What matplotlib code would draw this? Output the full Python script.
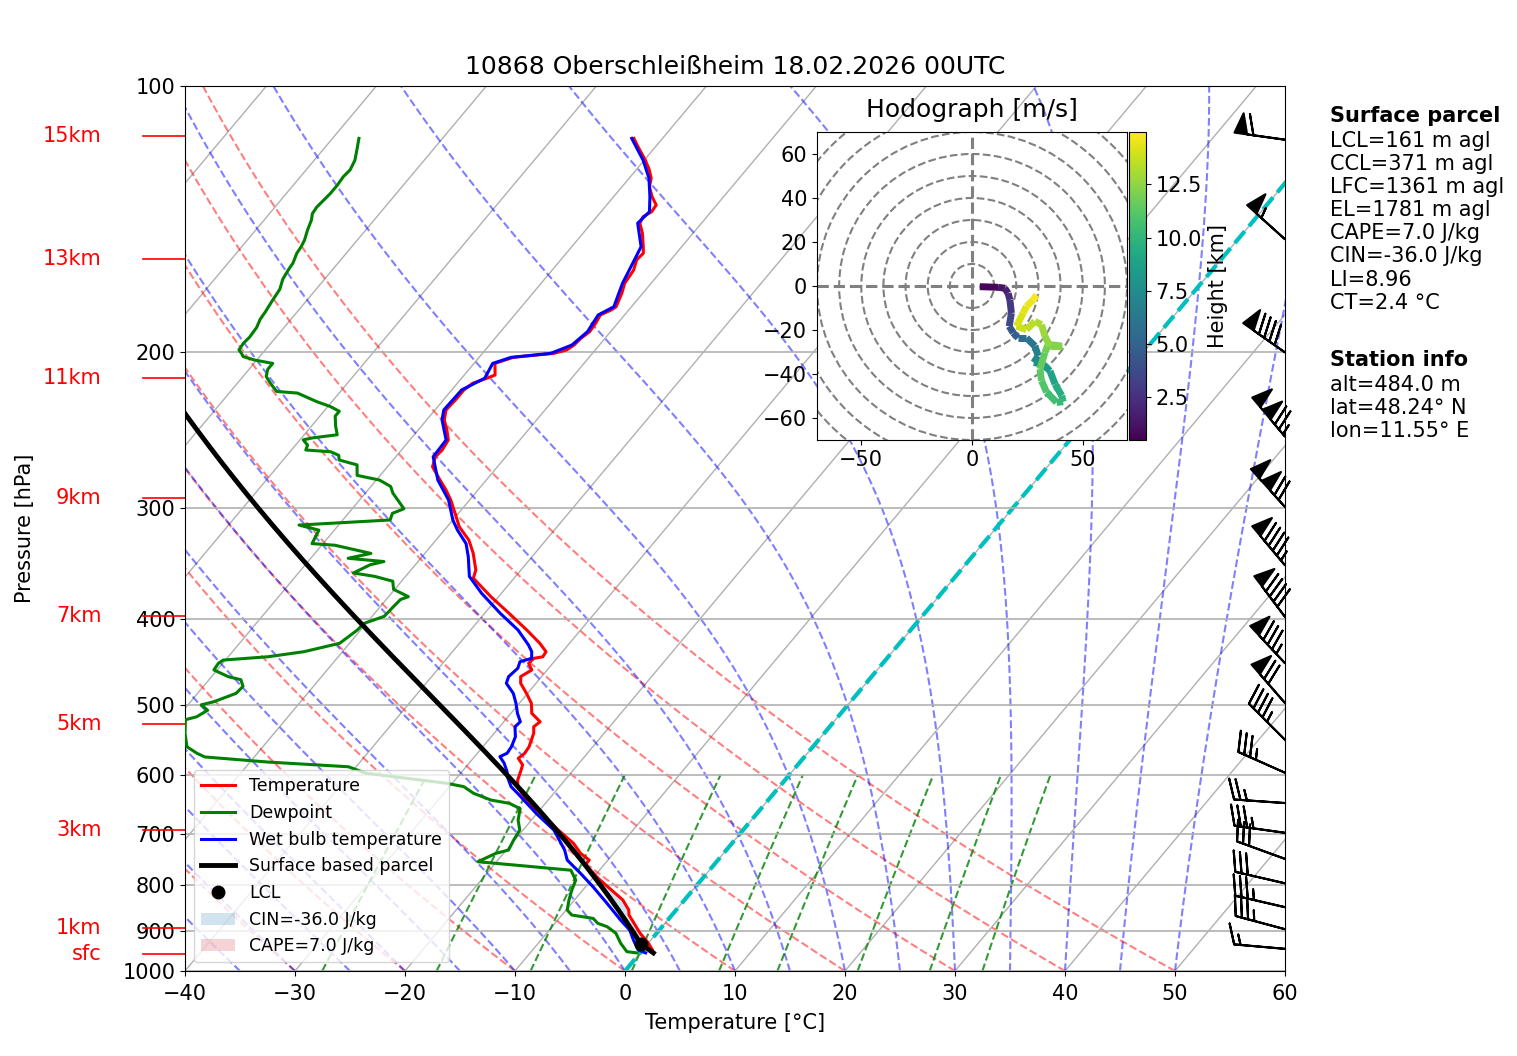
import numpy as np
import matplotlib
matplotlib.use("Agg")
import matplotlib.pyplot as plt
import matplotlib.transforms as mtransforms
from matplotlib.collections import LineCollection
from matplotlib.colors import Normalize
from matplotlib.lines import Line2D
from matplotlib.patches import Circle, Patch
from matplotlib.ticker import NullLocator

title = "10868 Oberschleißheim 18.02.2026 00UTC"

# sounding (hPa, degC)
p_temp = [954, 946.8, 926.6, 906.5, 883.4, 864.5, 853.3, 831.4, 810, 785.7, 765.5, 759, 749.3,
          736.3, 717.4, 693, 663.4, 646.4, 629.8, 619, 608.4, 597.8, 585, 575, 567.5, 558, 548.3,
          538.8, 529.7, 522.8, 511.5, 498.3, 485.6, 473, 464.9, 456.9, 449, 443.3, 441.5, 435.7,
          426.3, 411.8, 394.2, 377.6, 359.9, 352.3, 337.4, 326, 314.8, 304, 293.7, 286.1, 278.8,
          269.3, 262.4, 257.8, 251.2, 244.7, 238.4, 232.3, 226.3, 220.5, 216.7, 213.9, 212.1,
          205.8, 202.6, 201.4, 200.5, 198.7, 196.2, 192.8, 189.5, 185.4, 181.4, 179.1, 177.6,
          171.5, 167.1, 164.2, 161.4, 157.2, 154.5, 151.9, 146.7, 142.9, 140.5, 138.7, 136.3,
          133.4, 130, 127.1, 124.4, 121.3, 117.1, 114.6]
t_temp = [1.2, 0.9, -0.2, -1.5, -2.8, -3.9, -4.3, -5.6, -7.4, -9.5, -11.1, -11.7, -11.7,
          -13.0, -14.4, -16.8, -19.7, -21.5, -22.9, -23.8, -24.3, -24.6, -25.0, -25.9, -25.7, -25.8, -26.1,
          -26.4, -26.9, -26.7, -28.1, -28.9, -30.1, -31.4, -31.9, -31.4, -32.2, -32.1, -31.4, -31.5,
          -32.7, -34.9, -37.8, -40.7, -43.7, -44.1, -45.6, -47.0, -48.9, -50.3, -51.7, -52.9, -54.2,
          -55.9, -56.4, -56.3, -56.5, -57.4, -58.4, -59.0, -58.9, -58.9, -58.6, -57.7, -57.2,
          -58.1, -56.9, -55.0, -53.5, -52.6, -52.3, -52.2, -51.9, -52.0, -52.2, -51.6, -51.4,
          -51.9, -52.4, -52.5, -52.6, -53.1, -53.0, -53.5, -54.6, -55.6, -55.8, -55.4, -55.5,
          -56.5, -57.5, -58.0, -58.8, -59.9, -61.6, -62.6]

p_dew = [954, 951, 930.5, 906.5, 891.1, 883.4, 872.1, 864.5, 853.3, 831.4, 810, 789.4, 769.3,
         752.5, 736.3, 730, 711, 693, 675.5, 655.4, 646.4, 641, 629.8, 619, 613.6, 597.8, 587.8,
         580.6, 573, 567.5, 558, 538.8, 520.1, 516.1, 507.4, 500.3, 496.4, 485.6, 476.9, 468.7,
         464.9, 456.9, 449, 445.3, 441.5, 435.7, 426.3, 411.8, 404.8, 397.4, 387.5, 380.4, 377.6,
         370.5, 362.7, 358.2, 355, 347.5, 344.6, 341.7, 337.4, 330.3, 328.9, 317.6, 313.4, 309.3,
         304, 300.4, 288.4, 283.5, 278.8, 275.4, 268, 264.6, 261.4, 259, 257.8, 254.6, 251.1,
         249.8, 247.8, 242.3, 236.1, 233.1, 230.2, 227.3, 222.3, 221.4, 216.7, 212.9, 209, 205.8,
         204, 202.2, 200.5, 198.7, 195.2, 192.3, 187.4, 183.5, 179.8, 175.2, 172.4, 169.7, 165.3,
         161.4, 158.5, 154.5, 151.9, 149.3, 145.4, 141.7, 139.4, 137, 134.6, 132.3, 129.4, 126.6,
         124.4, 121.3, 117.1, 114.6]
t_dew = [-0.3, -1.3, -2.5, -3.7, -5.0, -6.1, -6.9, -9.1, -9.9, -10.5, -11.0, -11.4, -12.6,
         -21.7, -20.7, -19.8, -20.1, -20.3, -21.2, -21.9, -23.3, -25.2, -27.3, -28.7, -30.5, -38.6, -40.7,
         -48.4, -54.5, -55.5, -56.9, -58.1, -59.1, -58.3, -57.8, -58.8, -57.9, -56.5, -56.4, -57.1,
         -58.5, -60.3, -60.4, -60.2, -56.4, -53.5, -50.9, -50.3, -50.2, -48.9, -48.8, -48.7, -48.2,
         -50.1, -50.8, -52.8, -55.0, -54.1, -53.1, -56.6, -54.9, -58.8, -61.0, -61.4, -63.6, -55.7,
         -56.0, -55.3, -57.5, -58.2, -59.7, -62.1, -62.9, -64.9, -65.3, -66.3, -68.7, -68.9, -69.7,
         -69.0, -67.0, -67.8, -68.6, -68.6, -69.8, -71.4, -73.8, -75.8, -77.0, -77.9, -78.3, -78.3,
         -80.2, -81.5, -81.9, -82.4, -82.5, -82.4, -82.5, -82.8, -82.9, -83.1, -83.2, -83.3, -83.8,
         -84.0, -84.1, -84.5, -84.6, -84.8, -85.3, -85.7, -86.1, -86.2, -86.1, -86.0, -86.0, -86.1,
         -86.0, -86.3, -87.1, -87.6]

p_wb = [954, 946.8, 922.4, 898.8, 875.6, 838.4, 803.5, 775.4, 749.3, 730, 693, 663.4, 629.8,
        619, 603.1, 595.4, 582.5, 572.5, 567.5, 558, 543.7, 529.7, 522.8, 511.5, 498.3, 485.6,
        473, 464.9, 454.9, 447.2, 443.3, 435.7, 428.2, 411.8, 394.2, 374.3, 358.2, 340.3, 328.9,
        317.6, 309.3, 293.7, 278.8, 262.4, 251.2, 238.4, 232.3, 220.5, 213.9, 205.8, 202.6,
        200.5, 196.2, 189.5, 181.4, 177.6, 167.1, 157.2, 151.9, 142.9, 138.7, 133.4, 127.1,
        121.3, 114.6]
t_wb = [0.5, -0.4, -1.6, -2.7, -4.3, -6.8, -9.3, -11.5, -13.7, -14.7, -17.2, -20.1, -23.3,
        -24.4, -25.5, -25.9, -26.8, -27.7, -27.3, -27.4, -27.8, -28.6, -28.5, -29.4, -30.3, -31.3,
        -32.7, -33.0, -32.8, -33.1, -32.3, -32.8, -33.6, -35.7, -38.6, -41.8, -44.2, -45.8, -47.0,
        -48.8, -50.0, -51.9, -54.4, -56.6, -56.7, -58.6, -59.2, -59.1, -57.9, -58.3, -57.1,
        -53.8, -52.5, -52.1, -52.4, -51.6, -52.6, -53.3, -53.7, -55.8, -55.6, -56.7, -58.2,
        -60.1, -62.8]

# surface parcel start
p_sfc = 954.0
t_sfc = 1.2
td_sfc = -0.3

# wind barbs (hPa, direction deg, speed kt)
barb_p = [944, 897, 847, 796, 747, 698, 646, 597, 548, 498, 449, 398, 348, 299, 249, 200, 149, 115]
barb_dir = [275, 285, 283, 283, 290, 278, 274, 294, 315, 319, 317, 323, 320, 318, 320, 305, 312, 278]
barb_kt = [15, 35, 35, 30, 30, 35, 25, 35, 45, 70, 85, 90, 95, 120, 125, 90, 55, 60]

# hodograph (km, m/s)
hodo_h = [0.5, 1.0, 1.5, 2.0, 2.6, 3.3, 4.0, 4.6, 5.2, 5.8, 6.4, 7.0, 7.5, 8.0, 8.6, 9.2, 9.7,
          10.1, 10.4, 10.8, 11.1, 11.4, 11.7, 11.9, 12.1, 12.4, 12.7, 13.0, 13.3, 13.6, 13.9,
          14.2, 14.4, 14.7, 14.95]
hodo_u = [3.5, 11.8, 14.8, 16.3, 17.1, 17.8, 16.8, 18.6, 20.8, 24.6, 28.4, 29.9, 27.9, 32.2,
          35.2, 37.5, 40.5, 41.2, 38.2, 33.7, 31.4, 30.7, 32.9, 34.4, 40.5, 35.2, 32.9, 31.4,
          28.4, 24.6, 20.1, 23.1, 24.6, 27.6, 29.2]
hodo_v = [-0.3, -0.6, -1.0, -3.3, -6.3, -12.3, -18.3, -21.3, -23.6, -23.6, -27.3, -31.8, -34.8,
          -35.6, -38.6, -44.6, -49.8, -52.6, -52.9, -48.3, -43.1, -37.8, -30.3, -26.6, -27.3,
          -27.3, -22.8, -17.6, -16.1, -19.8, -18.3, -12.3, -9.3, -6.3, -4.1]

# height marks on the pressure axis
height_labels = ["sfc", "1km", "3km", "5km", "7km", "9km", "11km", "13km", "15km"]
height_p = [956, 895, 693, 526, 397, 292, 214, 157, 114]

parcel_lines = ["LCL=161 m agl", "CCL=371 m agl", "LFC=1361 m agl", "EL=1781 m agl",
                "CAPE=7.0 J/kg", "CIN=-36.0 J/kg", "LI=8.96", "CT=2.4 °C"]
station_lines = ["alt=484.0 m", "lat=48.24° N", "lon=11.55° E"]

# background line sets
dry_t0 = np.arange(-40, 51, 10)
moist_t0 = np.arange(-40, 51, 5)
mixing_ratios = [0.0004, 0.001, 0.002, 0.004, 0.007, 0.01, 0.016, 0.024, 0.032]

RD = 287.04749
CP = 1004.666
LV = 2.50084e6
EPS = 0.622
SKEW = 67.4  # degC shift per decade of pressure


def skew_x(t, p):
    return np.asarray(t, float) + SKEW * np.log10(1000.0 / np.asarray(p, float))


def sat_mixing(p, tk):
    es = 6.112 * np.exp(17.67 * (tk - 273.15) / (tk - 29.65))
    return EPS * es / (p - es)


def moist_dtdp(p, tk):
    rs = sat_mixing(p, tk)
    return (RD * tk + LV * rs) / (CP + LV * LV * rs * EPS / (RD * tk * tk)) / p


def moist_adiabat(t_start, plev):
    tk = np.atleast_1d(np.asarray(t_start, float)) + 273.15
    out = [tk.copy()]
    for p0, p1 in zip(plev[:-1], plev[1:]):
        h = p1 - p0
        k1 = moist_dtdp(p0, tk)
        k2 = moist_dtdp(p0 + h / 2, tk + h / 2 * k1)
        k3 = moist_dtdp(p0 + h / 2, tk + h / 2 * k2)
        k4 = moist_dtdp(p1, tk + h * k3)
        tk = tk + h / 6 * (k1 + 2 * k2 + 2 * k3 + k4)
        out.append(tk.copy())
    return np.array(out) - 273.15


fig = plt.figure(figsize=(15.17, 10.56), dpi=100)
ax = fig.add_axes([185 / 1517, 85 / 1056, 1100 / 1517, 885 / 1056])
ax.set_yscale("log")
ax.set_ylim(1000, 100)
ax.set_xlim(-40, 60)
ax.set_yticks(np.arange(100, 1001, 100))
ax.set_yticklabels([str(v) for v in range(100, 1001, 100)])
ax.yaxis.set_minor_locator(NullLocator())
ax.set_xticks(np.arange(-40, 61, 10))
ax.yaxis.grid(True, color="#b0b0b0", lw=1.2)
ax.tick_params(labelsize=15)
ax.tick_params(axis="x", pad=6)

pg = np.linspace(1000, 100, 200)
for t in range(-120, 61, 10):
    ax.plot(skew_x(t, pg), pg, color="#b0b0b0", lw=1.0, zorder=0.8)

for t0 in dry_t0:
    td = (t0 + 273.15) * (pg / 1000.0) ** (RD / CP) - 273.15
    ax.plot(skew_x(td, pg), pg, color="r", ls="--", alpha=0.5, lw=1.5, zorder=1)

moist = moist_adiabat(moist_t0, pg)
for i in range(len(moist_t0)):
    ax.plot(skew_x(moist[:, i], pg), pg, color="b", ls="--", alpha=0.5, lw=1.5, zorder=1)

pm = np.linspace(1000, 600, 50)
for w in mixing_ratios:
    e = w * pm / (EPS + w)
    lg = np.log(e / 6.112)
    tdw = 243.5 * lg / (17.67 - lg)
    ax.plot(skew_x(tdw, pm), pm, color="g", ls="--", alpha=0.8, lw=1.5, zorder=1)

ax.plot(skew_x(0, pg), pg, color="c", ls="--", lw=3, zorder=1.5)

# surface based parcel
tk_s = t_sfc + 273.15
tdk_s = td_sfc + 273.15
t_lcl = 1.0 / (1.0 / (tdk_s - 56.0) + np.log(tk_s / tdk_s) / 800.0) + 56.0
p_lcl = p_sfc * (t_lcl / tk_s) ** (CP / RD)
p_dry = np.linspace(p_sfc, p_lcl, 10)
t_dry = tk_s * (p_dry / p_sfc) ** (RD / CP) - 273.15
p_wet = np.linspace(p_lcl, 100, 300)
t_wet = moist_adiabat(t_lcl - 273.15, p_wet)[:, 0]
par_p = np.concatenate([p_dry, p_wet[1:]])
par_t = np.concatenate([t_dry, t_wet[1:]])

env_t = np.interp(par_p[::-1], p_temp[::-1], t_temp[::-1])[::-1]
warmer = par_t > env_t
above = par_p < p_lcl
idx_lfc = np.where(warmer & above)[0]
if len(idx_lfc):
    p_lfc = par_p[idx_lfc[0]]
    after = np.where((~warmer) & (par_p < p_lfc))[0]
    p_el = par_p[after[0]] if len(after) else 100
else:
    p_lfc, p_el = 100, 100
x_par = skew_x(par_t, par_p)
x_env = skew_x(env_t, par_p)
ax.fill_betweenx(par_p, x_par, x_env, where=(~warmer) & (par_p >= p_lfc),
                 color="tab:blue", alpha=0.2, lw=0, interpolate=True)
ax.fill_betweenx(par_p, x_par, x_env, where=warmer & (par_p <= p_lfc) & (par_p >= p_el),
                 color="tab:red", alpha=0.2, lw=0, interpolate=True)

ax.plot(skew_x(t_temp, p_temp), p_temp, color="r", lw=2.2, zorder=3)
ax.plot(skew_x(t_dew, p_dew), p_dew, color="g", lw=2.2, zorder=3)
ax.plot(skew_x(t_wb, p_wb), p_wb, color="b", lw=2.2, zorder=3)
ax.plot(x_par, par_p, color="k", lw=3.5, zorder=3)
ax.plot(skew_x(t_lcl - 273.15, p_lcl), p_lcl, "ko", ms=9, zorder=4)

# wind barbs on the right edge
trans = mtransforms.blended_transform_factory(ax.transAxes, ax.transData)
wd = np.deg2rad(barb_dir)
bu = -np.array(barb_kt) * np.sin(wd)
bv = -np.array(barb_kt) * np.cos(wd)
ax.barbs(np.ones(len(barb_p)), barb_p, bu, bv, transform=trans, clip_on=False,
         length=8.57, lw=1.5, zorder=5)

# height marks
for lab, hp in zip(height_labels, height_p):
    ax.plot([-0.038, 0.0], [hp, hp], color="r", lw=1.2, transform=trans, clip_on=False)
    ax.text(-0.076, hp, lab, color="r", ha="right", va="center", fontsize=15,
            transform=trans)

ax.set_title(title, fontsize=18, pad=9)
ax.set_xlabel("Temperature [°C]", fontsize=15, labelpad=6)
ax.set_ylabel("Pressure [hPa]", fontsize=15)
ax.yaxis.set_label_coords(-0.136, 0.5)

handles = [Line2D([], [], color="r", lw=2.2), Line2D([], [], color="g", lw=2.2),
           Line2D([], [], color="b", lw=2.2), Line2D([], [], color="k", lw=3.5),
           Line2D([], [], color="k", marker="o", ls="none", ms=9),
           Patch(facecolor="tab:blue", alpha=0.2), Patch(facecolor="tab:red", alpha=0.2)]
labels = ["Temperature", "Dewpoint", "Wet bulb temperature", "Surface based parcel", "LCL",
          parcel_lines[5], parcel_lines[4]]
ax.legend(handles, labels, loc="lower left", fontsize=12.5)

# hodograph inset
hax = fig.add_axes([817 / 1517, 616 / 1056, 310 / 1517, 308 / 1056])
for r in range(10, 100, 10):
    hax.add_patch(Circle((0, 0), r, fill=False, edgecolor="grey", ls="--", lw=1.5))
hax.axhline(0, color="grey", ls="--", lw=2.2)
hax.axvline(0, color="grey", ls="--", lw=2.2)
hax.set_xlim(-70, 70)
hax.set_ylim(-70, 70)
hax.set_xticks([-50, 0, 50])
hax.set_yticks(np.arange(-60, 61, 20))
hax.tick_params(labelsize=15)
pts = np.array([hodo_u, hodo_v]).T.reshape(-1, 1, 2)
segs = np.concatenate([pts[:-1], pts[1:]], axis=1)
hh = np.array(hodo_h)
lc = LineCollection(segs, cmap="viridis", norm=Normalize(hh.min(), hh.max()), lw=5)
lc.set_array((hh[:-1] + hh[1:]) / 2)
hax.add_collection(lc)
hax.set_title("Hodograph [m/s]", fontsize=18, pad=11)
cax = fig.add_axes([1129 / 1517, 616 / 1056, 17 / 1517, 308 / 1056])
cb = fig.colorbar(lc, cax=cax)
cb.set_label("Height [km]", fontsize=15)
cb.ax.tick_params(labelsize=15)

# text block on the right
fx = 1330 / 1517
fig.text(fx, 1 - 122 / 1056, "Surface parcel", fontsize=15, fontweight="bold", va="baseline")
for i, line in enumerate(parcel_lines):
    fig.text(fx, 1 - (147 + 23.1 * i) / 1056, line, fontsize=15, va="baseline")
fig.text(fx, 1 - 366.5 / 1056, "Station info", fontsize=15, fontweight="bold", va="baseline")
for i, line in enumerate(station_lines):
    fig.text(fx, 1 - (390.5 + 23.1 * i) / 1056, line, fontsize=15, va="baseline")

fig.savefig("out.png", dpi=100)
